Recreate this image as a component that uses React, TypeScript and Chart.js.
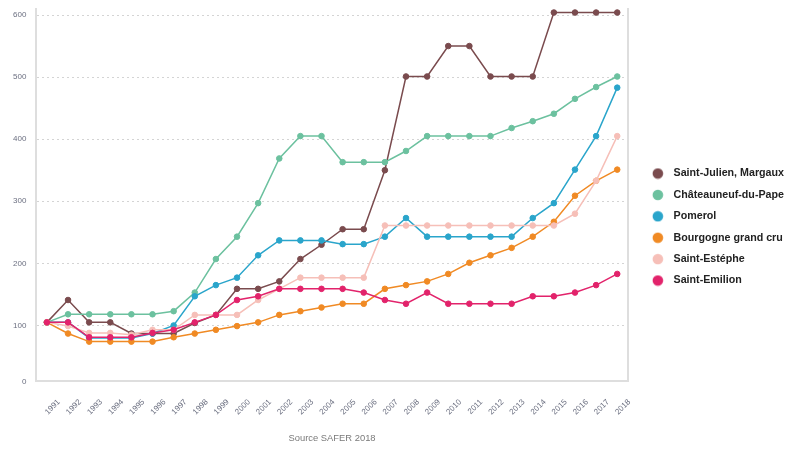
import React, { useEffect, useRef } from "react";
import { Chart, registerables } from "chart.js";

Chart.register(...registerables);

const years = [
  "1991", "1992", "1993", "1994", "1995", "1996", "1997", "1998", "1999", "2000",
  "2001", "2002", "2003", "2004", "2005", "2006", "2007", "2008", "2009", "2010",
  "2011", "2012", "2013", "2014", "2015", "2016", "2017", "2018",
];

const saintJulienMargaux = [105, 141, 105, 105, 87, 87, 87, 104, 117, 159, 159, 171, 207, 230, 255, 255, 350, 501, 501, 550, 550, 501, 501, 501, 604, 604, 604, 604];
const chateauneufDuPape = [105, 118, 118, 118, 118, 118, 123, 153, 207, 243, 297, 369, 405, 405, 363, 363, 363, 381, 405, 405, 405, 405, 418, 429, 441, 465, 484, 501];
const pomerol = [105, 105, 80, 80, 80, 87, 100, 147, 165, 177, 213, 237, 237, 237, 231, 231, 243, 273, 243, 243, 243, 243, 243, 273, 297, 351, 405, 483];
const bourgogneGrandCru = [105, 87, 74, 74, 74, 74, 81, 87, 93, 99, 105, 117, 123, 129, 135, 135, 159, 165, 171, 183, 201, 213, 225, 243, 267, 309, 333, 351];
const saintEstephe = [105, 99, 88, 88, 85, 93, 93, 117, 117, 117, 141, 159, 177, 177, 177, 177, 261, 261, 261, 261, 261, 261, 261, 261, 261, 280, 333, 405];
const saintEmilion = [105, 105, 81, 81, 81, 88, 93, 105, 117, 141, 147, 159, 159, 159, 159, 153, 141, 135, 153, 135, 135, 135, 135, 147, 147, 153, 165, 183];

const seriesNames = [
  "Saint-Julien, Margaux",
  "Châteauneuf-du-Pape",
  "Pomerol",
  "Bourgogne grand cru",
  "Saint-Estéphe",
  "Saint-Emilion",
];
const seriesValues = [saintJulienMargaux, chateauneufDuPape, pomerol, bourgogneGrandCru, saintEstephe, saintEmilion];
const seriesColors = ["#7a4b4e", "#6cc19f", "#2aa5cb", "#f08a24", "#f6bfb8", "#e2236b"];

// y axis: the bottom of the axis sits a little above zero but is labelled "0"
const yMin = 10;
const yMax = 610;
const yTickValues = [10, 100, 200, 300, 400, 500, 600];
const yTickLabels = ["0", "100", "200", "300", "400", "500", "600"];

const sourceNote = "Source SAFER 2018";

const FONT = "'Liberation Sans', Arial, Helvetica, sans-serif";

// legend marker: a filled dot sitting on the left of a wider transparent tile,
// so the dot is placed further from the label text
function legendDot(color: string) {
  const c = document.createElement("canvas");
  c.width = 22;
  c.height = 12;
  const ctx = c.getContext("2d")!;
  ctx.fillStyle = color;
  ctx.beginPath();
  ctx.arc(6, 6, 5.3, 0, Math.PI * 2);
  ctx.fill();
  return c;
}

export default function App() {
  const canvasRef = useRef<HTMLCanvasElement | null>(null);

  useEffect(() => {
    if (!canvasRef.current) return;
    const n = seriesNames.length;
    const dots = seriesColors.map(legendDot);
    const defaultLabels = Chart.defaults.plugins.legend.labels.generateLabels;
    const chart = new Chart(canvasRef.current, {
      type: "line",
      data: {
        labels: years,
        datasets: seriesNames.map((name, i) => ({
          label: name,
          data: seriesValues[i],
          borderColor: seriesColors[i],
          backgroundColor: seriesColors[i],
          pointBackgroundColor: seriesColors[i],
          pointBorderColor: seriesColors[i],
          borderWidth: 1.5,
          pointRadius: 2.8,
          pointBorderWidth: 1,
          tension: 0,
          order: n - 1 - i,
        })),
      },
      options: {
        animation: false,
        responsive: true,
        maintainAspectRatio: false,
        layout: { padding: { top: 0, left: 0, right: 0, bottom: 10 } },
        plugins: {
          tooltip: { enabled: false },
          legend: {
            position: "right",
            align: "center",
            maxWidth: 220,
            title: { display: true, text: " ", padding: 2, font: { size: 10 } },
            labels: {
              usePointStyle: true,
              boxWidth: 10.7,
              boxHeight: 7.5,
              padding: 10.7,
              color: "#222",
              font: { family: FONT, size: 10.7, weight: "bold" },
              generateLabels: (ch: any) =>
                defaultLabels(ch).map((item: any) => ({ ...item, pointStyle: dots[item.datasetIndex] })),
              sort: (a: any, b: any) => a.datasetIndex - b.datasetIndex,
            },
          },
        },
        scales: {
          x: {
            offset: true,
            grid: { display: false, drawTicks: false },
            border: { color: "#dedede", width: 2 },
            ticks: {
              maxRotation: 45,
              minRotation: 45,
              autoSkip: false,
              padding: 16,
              labelOffset: 12,
              color: "#6b6f80",
              font: { family: FONT, size: 8 },
            },
            title: {
              display: true,
              text: sourceNote,
              color: "#7a7a7a",
              padding: { top: 0, bottom: 0 },
              font: { family: FONT, size: 9.4 },
            },
          },
          y: {
            min: yMin,
            max: yMax,
            afterBuildTicks: (axis: any) => {
              axis.ticks = yTickValues.map((v) => ({ value: v }));
            },
            grid: {
              color: (c: any) => (c.tick && c.tick.value === yMin ? "rgba(0,0,0,0)" : "#d4d4d4"),
              drawTicks: false,
            },
            border: { color: "#dedede", width: 2, dash: [2, 3] as any },
            ticks: {
              padding: 10,
              color: "#6b6f80",
              font: { family: FONT, size: 8 },
              callback: (value: any) => {
                const k = yTickValues.indexOf(Number(value));
                return k >= 0 ? yTickLabels[k] : "";
              },
            },
          },
          // frame line on the right of the plot, leaving a gap before the legend
          yRight: {
            position: "right",
            grid: { drawOnChartArea: false, drawTicks: false },
            border: { color: "#dedede", width: 2 },
            ticks: { display: false },
            afterFit: (axis: any) => {
              axis.width = 19;
            },
          },
        },
      },
    });
    return () => chart.destroy();
  }, []);

  return (
    <div style={{ position: "relative", width: 791, height: 460, marginLeft: -5, marginTop: -14 }}>
      <canvas ref={canvasRef} />
    </div>
  );
}
